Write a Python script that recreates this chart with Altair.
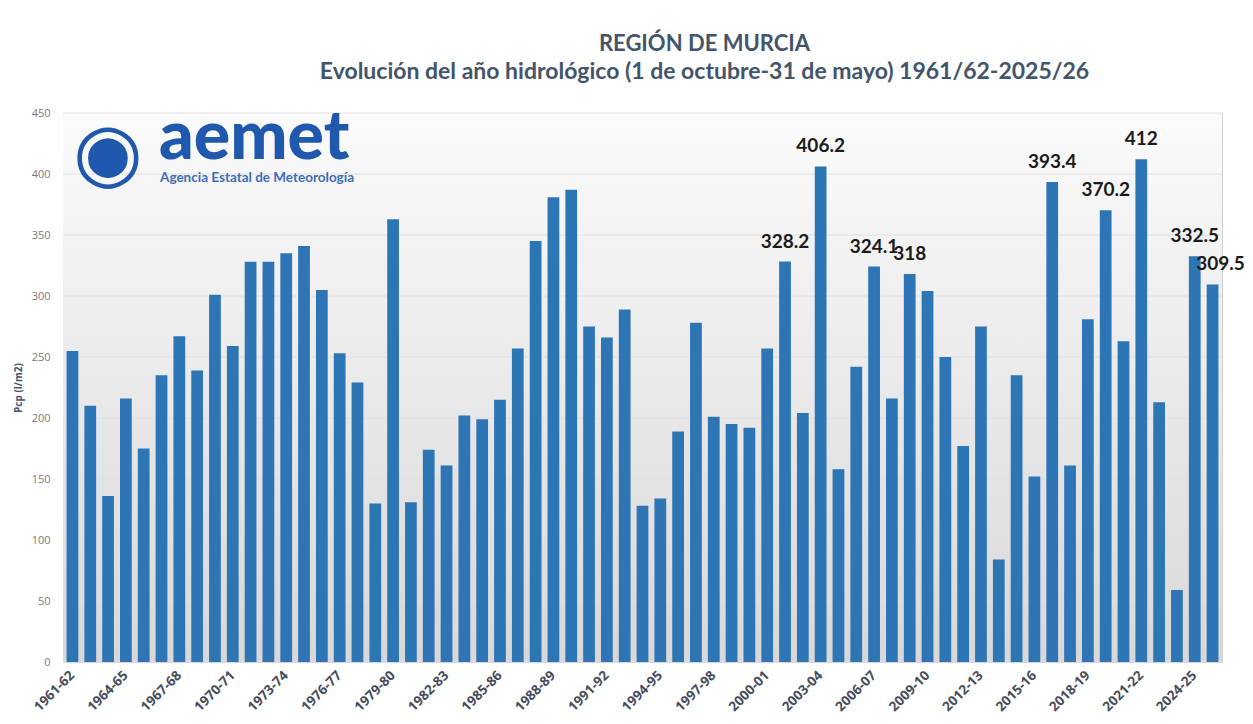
import altair as alt
import pandas as pd

# ---------------- data ----------------
start_years = list(range(1961, 2026))
seasons = [f"{y}-{str(y + 1)[-2:]}" for y in start_years]

pcp = [
    255, 210, 136, 216, 175, 235, 267, 239, 301, 259,
    328, 328, 335, 341, 305, 253, 229, 130, 363, 131,
    174, 161, 202, 199, 215, 257, 345, 381, 387, 275,
    266, 289, 128, 134, 189, 278, 201, 195, 192, 257,
    328.2, 204, 406.2, 158, 242, 324.1, 216, 318, 304, 250,
    177, 275, 84, 235, 152, 393.4, 161, 281, 370.2, 263,
    412, 213, 59, 332.5, 309.5,
]

labeled_seasons = ["2001-02", "2003-04", "2006-07", "2008-09", "2016-17",
                   "2019-20", "2021-22", "2024-25", "2025-26"]

y_ticks = [0, 50, 100, 150, 200, 250, 300, 350, 400, 450]
x_tick_labels = seasons[::3]

title_text = "REGIÓN DE MURCIA"
subtitle_text = "Evolución del año hidrológico (1 de octubre-31 de mayo) 1961/62-2025/26"
logo_word = ["aemet"]
logo_sub = ["Agencia Estatal de Meteorología"]

df = pd.DataFrame({
    "season": seasons,
    "pcp": pcp,
    "label": [f"{v:g}" if s in labeled_seasons else "" for s, v in zip(seasons, pcp)],
})

W, H = 1159, 549
BAR = "#2E75B6"
SLATE = "#44546A"
LOGO = "#1F58AD"

x_enc = alt.X(
    "season:N", sort=seasons, title=None,
    scale=alt.Scale(paddingInner=0.34, paddingOuter=0.2),
    axis=alt.Axis(values=x_tick_labels, labelAngle=-45, labelAlign="right",
                  labelBaseline="middle", labelPadding=11, ticks=False, domain=False,
                  labelFont="Open Sans", labelFontSize=13.5, labelFontWeight="bold",
                  labelColor="#454C5A", grid=False),
)
y_scale = alt.Scale(domain=[0, 450], nice=False)
y_axis = alt.Axis(values=y_ticks, grid=False, ticks=False, domain=False,
                  labelFont="Open Sans", labelFontSize=11, labelColor="#7A7A7A",
                  labelPadding=13, title="Pcp (l/m2)", titleFont="Open Sans",
                  titleFontSize=10, titleFontWeight="bold", titleColor=SLATE,
                  titlePadding=8)

bg = alt.Chart(pd.DataFrame({"k": [0]})).mark_rect(
    color=alt.Gradient(gradient="linear", x1=0, x2=0, y1=0, y2=1,
                       stops=[alt.GradientStop(color="#FBFBFB", offset=0),
                              alt.GradientStop(color="#D8D8D8", offset=1)])
).encode(x=alt.value(0), x2=alt.value("width"), y=alt.value(0), y2=alt.value("height"))

grid = alt.Chart(pd.DataFrame({"t": y_ticks})).mark_rule(
    color="#E0E0E0", strokeWidth=1
).encode(y=alt.Y("t:Q", scale=y_scale, axis=y_axis, title="Pcp (l/m2)"))

bars = alt.Chart(df).mark_bar(color=BAR).encode(
    x=x_enc,
    y=alt.Y("pcp:Q", scale=y_scale, axis=y_axis, title="Pcp (l/m2)"),
)

text_style = dict(font="Lato", fontSize=19, fontWeight="bold", color="#1A1A1A",
                  baseline="alphabetic", dy=-14)

labels_main = alt.Chart(df).transform_filter(
    (alt.datum.label != "") & (alt.datum.season != "2025-26")
).mark_text(**text_style).encode(
    x=alt.X("season:N", sort=seasons), y=alt.Y("pcp:Q", scale=y_scale), text="label:N")

labels_last = alt.Chart(df).transform_filter(
    alt.datum.season == "2025-26"
).mark_text(dx=8, **text_style).encode(
    x=alt.X("season:N", sort=seasons), y=alt.Y("pcp:Q", scale=y_scale), text="label:N")

logo_a = alt.Chart(pd.DataFrame({"t": logo_word})).mark_text(
    font="Lato", fontSize=68, fontWeight=900, color=LOGO, align="left",
    baseline="alphabetic").encode(x=alt.value(96), y=alt.value(46), text="t:N")

logo_b = alt.Chart(pd.DataFrame({"t": logo_sub})).mark_text(
    font="Lato", fontSize=13.5, fontWeight="bold", color="#3C6DB8", align="left",
    baseline="alphabetic").encode(x=alt.value(97), y=alt.value(69), text="t:N")

logo_icon = alt.Chart(pd.DataFrame({"t": ["◉"]})).mark_text(
    font="DejaVu Sans", fontSize=80, color=LOGO, align="left",
    baseline="alphabetic").encode(x=alt.value(10), y=alt.value(66), text="t:N")

chart = alt.layer(bg, grid, bars, labels_main, labels_last, logo_icon, logo_a, logo_b).properties(
    width=W, height=H,
    autosize=alt.AutoSizeParams(type="none"),
    padding={"left": 55, "top": 105, "right": 23, "bottom": 54},
    title=alt.TitleParams(text=title_text, subtitle=subtitle_text,
                          font="Lato", fontSize=22, fontWeight="bold", color=SLATE,
                          subtitleFont="Lato", subtitleFontSize=23, subtitleFontWeight="bold",
                          subtitleColor=SLATE, subtitlePadding=5,
                          anchor="middle", frame="group", dx=62, offset=20),
).configure_view(stroke="#D0D0D0", strokeWidth=1)

chart.save("out.html", embed_options={"renderer": "svg", "actions": False})
